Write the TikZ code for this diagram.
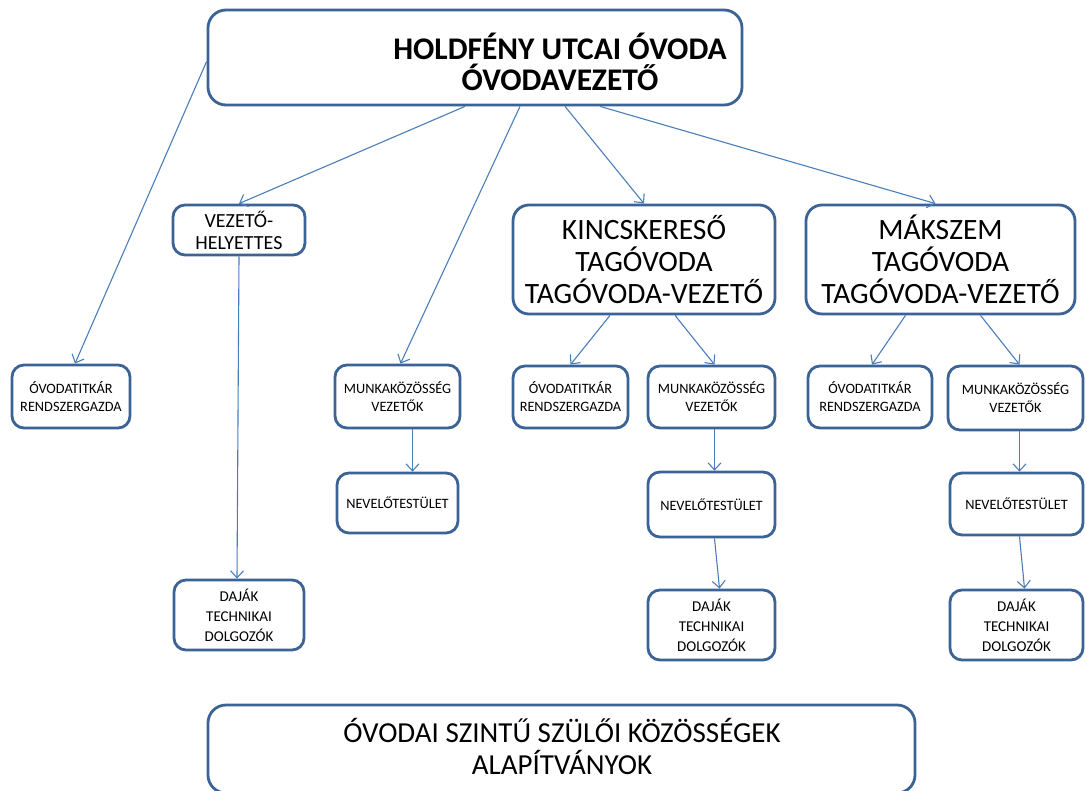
\documentclass[tikz,border=0pt]{standalone}
\usepackage{fontspec}
\setmainfont{Carlito}
\usetikzlibrary{arrows.meta}
\definecolor{boxblue}{HTML}{3C6396}
\definecolor{arrblue}{HTML}{4A7EBB}
\begin{document}
\begin{tikzpicture}[x=1pt,y=-1pt,
  box/.style={draw=boxblue, line width=2.8pt, rounded corners=12pt, rectangle, fill=white, align=center, inner sep=0pt},
  small/.style={box, font=\fontsize{14.3}{18}\selectfont},
  dajak/.style={box, font=\fontsize{15}{20}\selectfont},
  big/.style={box, rounded corners=16pt, font=\fontsize{29.5}{32}\selectfont},
  conn/.style={draw=arrblue, line width=1.1pt, -{Straight Barb[length=7pt,width=13pt,line width=1.1pt]}}
]
\clip (0,0) rectangle (1087,790);
\fill[white] (0,0) rectangle (1087,790);

% top
\node[box, rounded corners=18pt, minimum width=534pt, minimum height=95pt] (top) at (475,57.5) {};
\node[align=center, font=\bfseries\fontsize{31.5}{31}\selectfont] (toptext) at (560,62) {HOLDFÉNY UTCAI ÓVODA\\ÓVODAVEZETŐ};

% left branch
\node[box, font=\fontsize{20}{22}\selectfont, minimum width=132pt, minimum height=50pt] (vh) at (239,230) {VEZETŐ-\\HELYETTES};
\node[small, minimum width=118pt, minimum height=63pt] (ot1) at (71,396.5) {ÓVODATITKÁR\\RENDSZERGAZDA};
\node[small, minimum width=125pt, minimum height=63pt] (mk1) at (397.5,396.5) {MUNKAKÖZÖSSÉG\\VEZETŐK};
\node[small, minimum width=121pt, minimum height=60pt] (nv1) at (397.5,503) {NEVELŐTESTÜLET};
\node[dajak, minimum width=130pt, minimum height=70pt] (dj1) at (239,615) {DAJÁK\\TECHNIKAI\\DOLGOZÓK};

% Kincskereső
\node[big, minimum width=262pt, minimum height=109pt] (kin) at (644,259.5) {KINCSKERESŐ\\TAGÓVODA\\TAGÓVODA-VEZETŐ};
\node[small, minimum width=115pt, minimum height=62pt] (ot2) at (570.5,397) {ÓVODATITKÁR\\RENDSZERGAZDA};
\node[small, minimum width=127pt, minimum height=62pt] (mk2) at (711.5,397) {MUNKAKÖZÖSSÉG\\VEZETŐK};
\node[small, minimum width=127pt, minimum height=65pt] (nv2) at (711.5,504.5) {NEVELŐTESTÜLET};
\node[dajak, minimum width=127pt, minimum height=70pt] (dj2) at (711.5,625) {DAJÁK\\TECHNIKAI\\DOLGOZÓK};

% Mákszem
\node[big, minimum width=269pt, minimum height=109pt] (mak) at (940.5,259.5) {MÁKSZEM\\TAGÓVODA\\TAGÓVODA-VEZETŐ};
\node[small, minimum width=124pt, minimum height=62pt] (ot3) at (870,397) {ÓVODATITKÁR\\RENDSZERGAZDA};
\node[small, minimum width=135pt, minimum height=64pt] (mk3) at (1015.5,398) {MUNKAKÖZÖSSÉG\\VEZETŐK};
\node[small, minimum width=133pt, minimum height=62pt] (nv3) at (1016.5,504) {NEVELŐTESTÜLET};
\node[dajak, minimum width=133pt, minimum height=70pt] (dj3) at (1016.5,625) {DAJÁK\\TECHNIKAI\\DOLGOZÓK};

% bottom
\node[box, rounded corners=18pt, minimum width=707pt, minimum height=88pt] (bot) at (561.5,749) {};
\node[align=center, font=\fontsize{29}{32}\selectfont] (bottext) at (562,746) {ÓVODAI SZINTŰ SZÜLŐI KÖZÖSSÉGEK\\ALAPÍTVÁNYOK};

% connectors
\draw[conn] ([yshift=-4pt]top.west) -- ([xshift=4pt]ot1.north);
\draw[conn] ([xshift=-10pt]top.south) -- (vh.north);
\draw[conn] ([xshift=45pt]top.south) -- ([xshift=3pt]mk1.north);
\draw[conn] ([xshift=90pt]top.south) -- (kin.north);
\draw[conn] ([xshift=125pt]top.south) -- ([xshift=-5pt]mak.north);
\draw[conn] (vh.south) -- ([xshift=-2pt]dj1.north);
\draw[conn] ([xshift=15pt]mk1.south) -- ([xshift=15pt]nv1.north);
\draw[conn] ([xshift=-34pt]kin.south) -- ([xshift=0pt]ot2.north);
\draw[conn] ([xshift=31pt]kin.south) -- ([xshift=3pt]mk2.north);
\draw[conn] ([xshift=3pt]mk2.south) -- ([xshift=3pt]nv2.north);
\draw[conn] ([xshift=3pt]nv2.south) -- ([xshift=8pt]dj2.north);
\draw[conn] ([xshift=-35pt]mak.south) -- ([xshift=2pt]ot3.north);
\draw[conn] ([xshift=40pt]mak.south) -- ([xshift=4pt]mk3.north);
\draw[conn] ([xshift=4pt]mk3.south) -- ([xshift=3pt]nv3.north);
\draw[conn] ([xshift=3pt]nv3.south) -- ([xshift=8pt]dj3.north);
\end{tikzpicture}
\end{document}
